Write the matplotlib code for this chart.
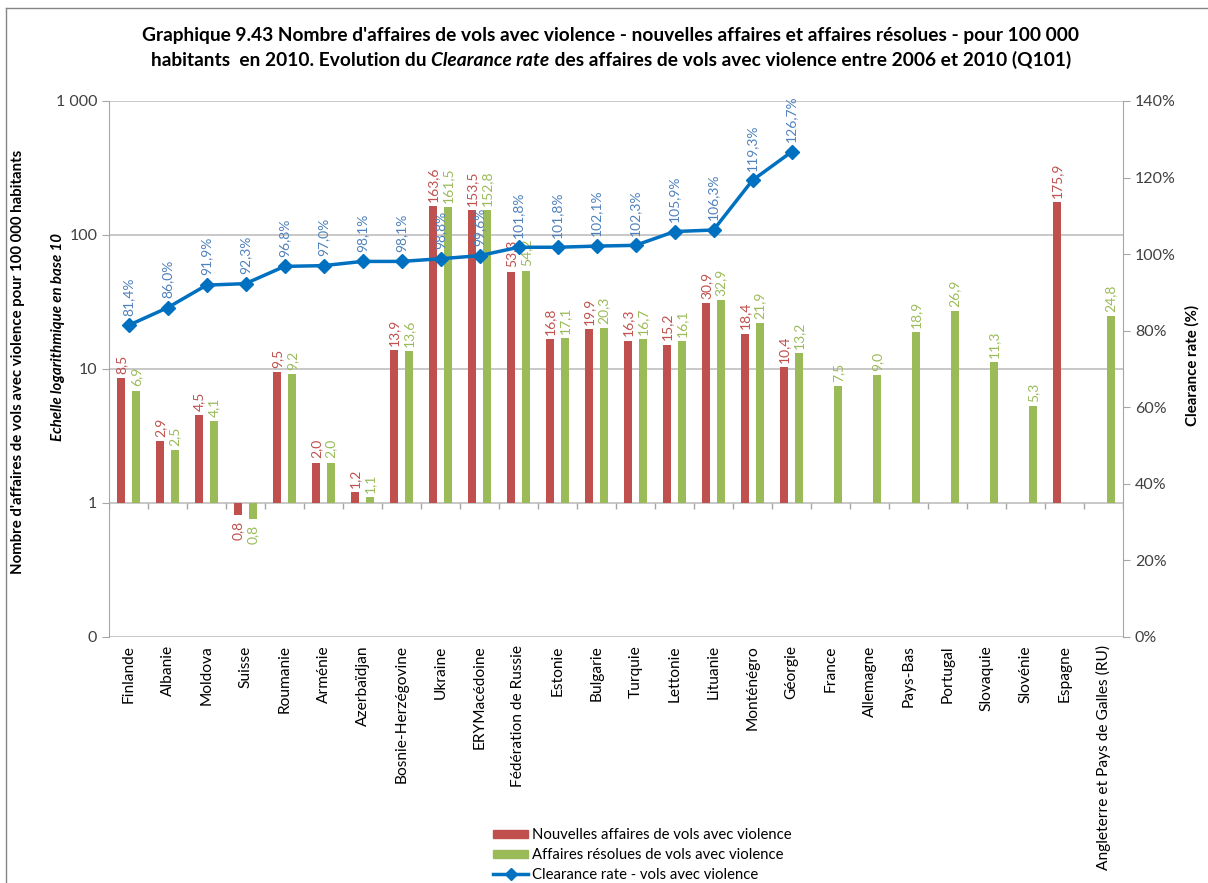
import numpy as np
import matplotlib
matplotlib.use("Agg")
import matplotlib.pyplot as plt
from matplotlib.patches import Patch
from matplotlib.lines import Line2D

plt.rcParams['font.family'] = ['Lato', 'DejaVu Sans']

# data
pays = ["Finlande", "Albanie", "Moldova", "Suisse", "Roumanie", "Arménie", "Azerbaïdjan",
        "Bosnie-Herzégovine", "Ukraine", "ERYMacédoine", "Fédération de Russie", "Estonie",
        "Bulgarie", "Turquie", "Lettonie", "Lituanie", "Monténégro", "Géorgie", "France",
        "Allemagne", "Pays-Bas", "Portugal", "Slovaquie", "Slovénie", "Espagne",
        "Angleterre et Pays de Galles (RU)"]
nouvelles = [8.5, 2.9, 4.5, 0.81, 9.5, 2.0, 1.2, 13.9, 163.6, 153.5, 53.3, 16.8, 19.9, 16.3,
             15.2, 30.9, 18.4, 10.4, np.nan, np.nan, np.nan, np.nan, np.nan, np.nan, 175.9, np.nan]
resolues = [6.9, 2.5, 4.1, 0.76, 9.2, 2.0, 1.1, 13.6, 161.5, 152.8, 54.2, 17.1, 20.3, 16.7,
            16.1, 32.9, 21.9, 13.2, 7.5, 9.0, 18.9, 26.9, 11.3, 5.3, np.nan, 24.8]
clearance = [81.4, 86.0, 91.9, 92.3, 96.8, 97.0, 98.1, 98.1, 98.8, 99.6, 101.8, 101.8,
             102.1, 102.3, 105.9, 106.3, 119.3, 126.7]

RED = '#C0504D'
GREEN = '#9BBB59'
BLUE = '#0070C0'
LBLUE = '#4F81BD'
GRID = '#BFBFBF'
AXC = '#A6A6A6'

W, H = 1208, 883
fig = plt.figure(figsize=(W / 100, H / 100), dpi=100)

# plot area in pixels
x0, x1, yt, yb = 109, 1123, 101, 637
ax = fig.add_axes([x0 / W, (H - yb) / H, (x1 - x0) / W, (yb - yt) / H])

x = np.arange(len(pays))
off = 0.19
bw = 0.205
nv = np.array(nouvelles)
rv = np.array(resolues)

ax.bar(x - off, nv - 1, bottom=1, width=bw, color=RED, zorder=3)
ax.bar(x + off, rv - 1, bottom=1, width=bw, color=GREEN, zorder=3)
ax.set_yscale('log')
ax.set_ylim(0.1, 1000)
ax.set_xlim(-0.5, len(pays) - 0.5)
ax.set_yticks([0.1, 1, 10, 100, 1000])
ax.set_yticklabels(["0", "1", "10", "100", "1 000"])
ax.minorticks_off()
ax.yaxis.grid(True, color=GRID, lw=1.2, zorder=0)
ax.set_axisbelow(True)
for s in ['top', 'bottom', 'right']:
    ax.spines[s].set_visible(False)
ax.spines['left'].set_color(AXC)
ax.tick_params(axis='y', colors=AXC, labelcolor='#404040', labelsize=11.5, length=5)
ax.set_xticks(x)
ax.set_xticklabels(pays, rotation=90, fontsize=11.2, color='black')
ax.tick_params(axis='x', length=0, pad=6)

# category ticks on the axis line at 1
ax.vlines(np.arange(len(pays) + 1) - 0.5, 10 ** (-6 / 134), 1, color=AXC, lw=1, zorder=2)

def fmt(v):
    return f"{v:.1f}".replace('.', ',')

for xi, v in zip(x - off, nv):
    if np.isnan(v):
        continue
    if v >= 1:
        ax.annotate(fmt(v), (xi, v), xytext=(0, 3), textcoords='offset points', rotation=90,
                    ha='center', va='bottom', color=RED, fontsize=10, zorder=5)
    else:
        ax.annotate(fmt(v), (xi, v), xytext=(0, -4), textcoords='offset points', rotation=90,
                    ha='center', va='top', color=RED, fontsize=10, zorder=5)
for xi, v in zip(x + off, rv):
    if np.isnan(v):
        continue
    if v >= 1:
        ax.annotate(fmt(v), (xi, v), xytext=(0, 3), textcoords='offset points', rotation=90,
                    ha='center', va='bottom', color=GREEN, fontsize=10, zorder=5)
    else:
        ax.annotate(fmt(v), (xi, v), xytext=(0, -4), textcoords='offset points', rotation=90,
                    ha='center', va='top', color=GREEN, fontsize=10, zorder=5)

# secondary axis: clearance rate
ax2 = ax.twinx()
ax2.set_ylim(0, 140)
ax2.set_yticks(np.arange(0, 141, 20))
ax2.set_yticklabels([f"{t}%" for t in range(0, 141, 20)])
for s in ['top', 'bottom', 'left']:
    ax2.spines[s].set_visible(False)
ax2.spines['right'].set_color(AXC)
ax2.tick_params(axis='y', colors=AXC, labelcolor='#404040', labelsize=11.5, length=5)
xc = np.arange(len(clearance))
ax2.plot(xc, clearance, color=BLUE, lw=2.5, marker='D', ms=7, zorder=4)
for xi, v in zip(xc, clearance):
    ax2.annotate(fmt(v) + "%", (xi, v), xytext=(0, 7), textcoords='offset points', rotation=90,
                 ha='center', va='bottom', color=LBLUE, fontsize=10)

# axis titles
fig.text(18 / W, 1 - 362 / H, "Nombre d'affaires de vols avec violence pour 100 000 habitants",
         rotation=90, ha='center', va='center', fontsize=10.8, fontweight='bold')
fig.text(58 / W, 1 - 337 / H, "Echelle logarithmique en base 10", rotation=90, ha='center',
         va='center', fontsize=10.8, fontweight='bold', style='italic')
fig.text(1192 / W, 1 - 365 / H, "Clearance rate (%)", rotation=90, ha='center', va='center',
         fontsize=10.8, fontweight='bold')

# title
fig.text(611 / W, 1 - 35 / H,
         "Graphique 9.43 Nombre d'affaires de vols avec violence - nouvelles affaires et affaires résolues - pour 100 000",
         ha='center', va='center', fontsize=13.8, fontweight='bold')
pieces = [("habitants  en 2010. Evolution du ", 'normal'), ("Clearance rate", 'italic'),
          (" des affaires de vols avec violence entre 2006 et 2010 (Q101)", 'normal')]
r = fig.canvas.get_renderer()
objs = []
for txt, st in pieces:
    t = fig.text(0, 1 - 60 / H, txt, ha='left', va='center', fontsize=13.8, fontweight='bold', style=st)
    objs.append(t)
widths = [t.get_window_extent(r).width for t in objs]
start = 611 - sum(widths) / 2
for t, w in zip(objs, widths):
    t.set_x(start / W)
    start += w

# legend
handles = [Patch(color=RED), Patch(color=GREEN),
           Line2D([], [], color=BLUE, lw=2.5, marker='D', ms=6)]
labels = ["Nouvelles affaires de vols avec violence", "Affaires résolues de vols avec violence",
          "Clearance rate - vols avec violence"]
fig.legend(handles, labels, loc='upper left', bbox_to_anchor=(486 / W, 1 - 821 / H), frameon=False,
           fontsize=10.7, handlelength=2.3, handleheight=0.5, handletextpad=0.3, labelspacing=0.38,
           borderpad=0)

# chart border
fig.add_artist(Line2D([6 / W, 6 / W], [0, 1 - 8 / H], color='#868686', lw=1))
fig.add_artist(Line2D([6 / W, 1], [1 - 8 / H, 1 - 8 / H], color='#868686', lw=1))

fig.savefig("out.png", dpi=100)
